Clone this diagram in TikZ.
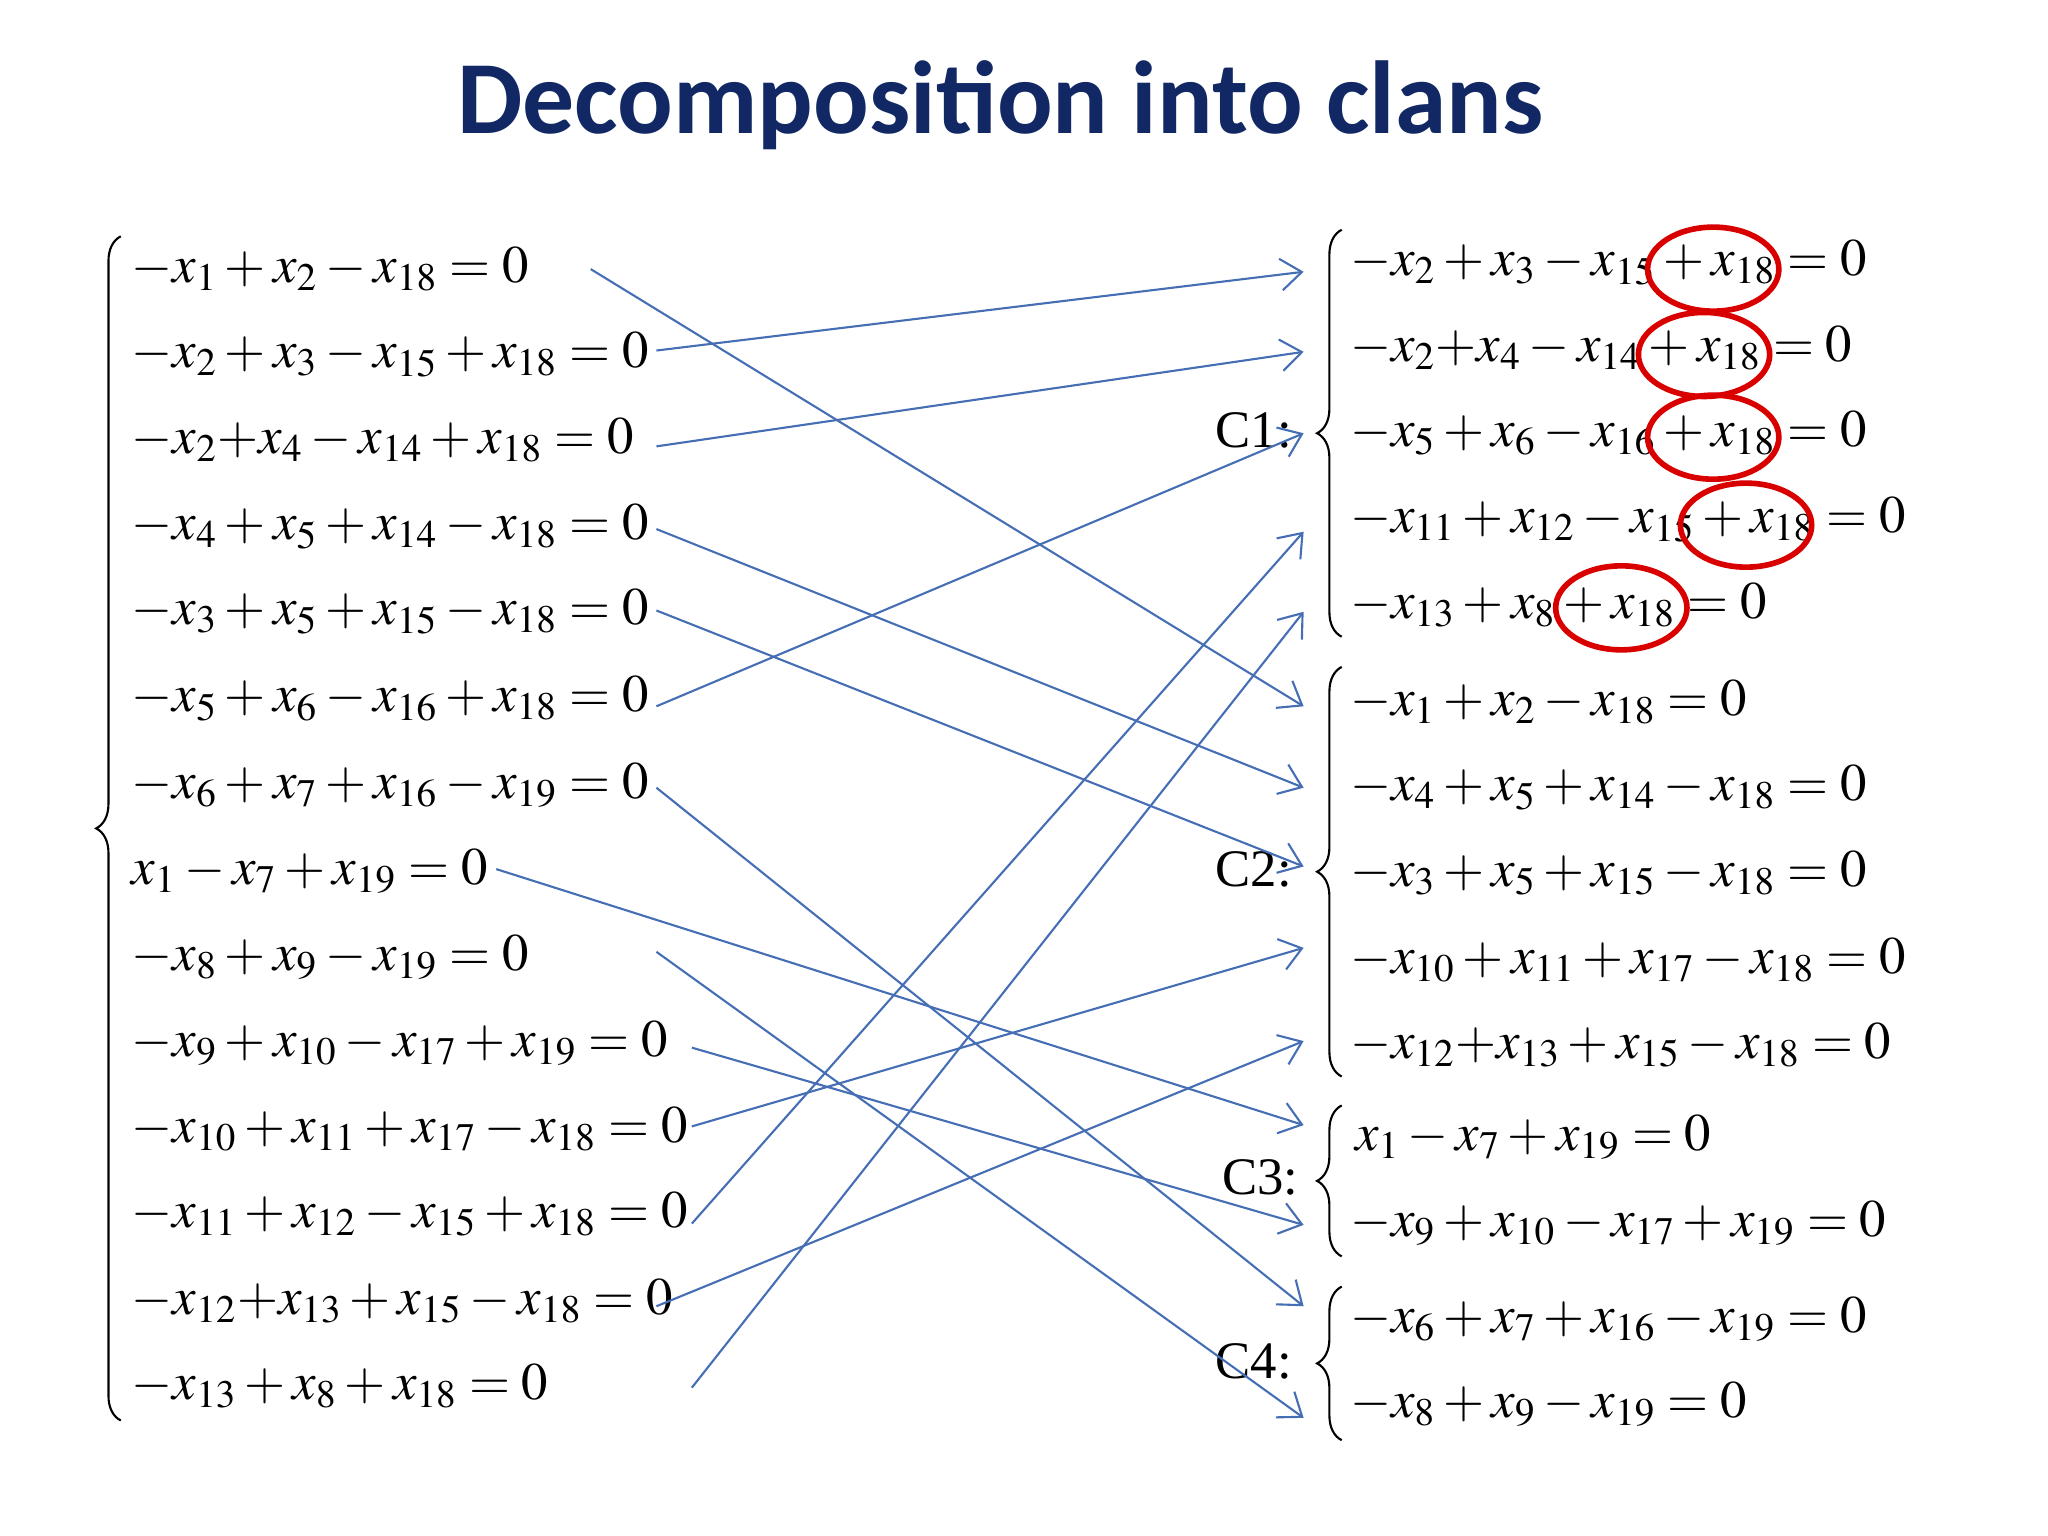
\documentclass[tikz,border=0pt]{standalone}
\usepackage{mathptmx}
\usepackage{fontspec}
\setmainfont{Liberation Serif}
\newfontfamily\titlefont{Carlito}
\usetikzlibrary{decorations.pathreplacing,arrows.meta}
\definecolor{titleblue}{RGB}{18,40,100}
\definecolor{arr}{RGB}{70,110,180}
\begin{document}
\begin{tikzpicture}[x=0.01313cm,y=-0.01313cm,
  eq/.style={anchor=west,inner sep=0pt,font=\fontsize{15}{17}\selectfont},
  lab/.style={inner sep=0pt,font=\fontsize{15}{17}\selectfont},
  conn/.style={draw=arr,line width=0.6pt,-{Straight Barb[length=6pt,width=9pt]}},
  br/.style={decorate,decoration={brace,amplitude=7pt},line width=0.6pt},
  ring/.style={draw=red!85!black,line width=1.6pt}]
\useasboundingbox (0,0) rectangle (1560,1170);
\node[font=\titlefont\bfseries\fontsize{29.5}{31}\selectfont,text=titleblue] (title) at (762,80) {Decomposition into clans};
% left system
\draw[br] (92,1082) -- (92,180);
\node[eq] (l1) at (100,205) {$-x_1+x_2-x_{18}=0$};
\node[eq] (l2) at (100,270) {$-x_2+x_3-x_{15}+x_{18}=0$};
\node[eq] (l3) at (100,335) {$-x_2{+}x_4-x_{14}+x_{18}=0$};
\node[eq] (l4) at (100,401) {$-x_4+x_5+x_{14}-x_{18}=0$};
\node[eq] (l5) at (100,466) {$-x_3+x_5+x_{15}-x_{18}=0$};
\node[eq] (l6) at (100,532) {$-x_5+x_6-x_{16}+x_{18}=0$};
\node[eq] (l7) at (100,598) {$-x_6+x_7+x_{16}-x_{19}=0$};
\node[eq] (l8) at (100,664) {$x_1-x_7+x_{19}=0$};
\node[eq] (l9) at (100,729) {$-x_8+x_9-x_{19}=0$};
\node[eq] (l10) at (100,795) {$-x_9+x_{10}-x_{17}+x_{19}=0$};
\node[eq] (l11) at (100,860) {$-x_{10}+x_{11}+x_{17}-x_{18}=0$};
\node[eq] (l12) at (100,925) {$-x_{11}+x_{12}-x_{15}+x_{18}=0$};
\node[eq] (l13) at (100,991) {$-x_{12}{+}x_{13}+x_{15}-x_{18}=0$};
\node[eq] (l14) at (100,1056) {$-x_{13}+x_8+x_{18}=0$};
% right systems
\node[lab] (c1) at (955,328) {C1:};
\node[lab] (c2) at (955,662) {C2:};
\node[lab] (c3) at (960,897) {C3:};
\node[lab] (c4) at (955,1037) {C4:};
\draw[br] (1022,485) -- (1022,175);
\draw[br] (1022,820) -- (1022,508);
\draw[br] (1022,957) -- (1022,842);
\draw[br] (1022,1097) -- (1022,980);
\node[eq] (r1) at (1028,200) {$-x_2+x_3-x_{15}+x_{18}=0$};
\node[eq] (r2) at (1028,265) {$-x_2{+}x_4-x_{14}+x_{18}=0$};
\node[eq] (r3) at (1028,330) {$-x_5+x_6-x_{16}+x_{18}=0$};
\node[eq] (r4) at (1028,396) {$-x_{11}+x_{12}-x_{15}+x_{18}=0$};
\node[eq] (r5) at (1028,461) {$-x_{13}+x_8+x_{18}=0$};
\node[eq] (r6) at (1028,535) {$-x_1+x_2-x_{18}=0$};
\node[eq] (r7) at (1028,600) {$-x_4+x_5+x_{14}-x_{18}=0$};
\node[eq] (r8) at (1028,665) {$-x_3+x_5+x_{15}-x_{18}=0$};
\node[eq] (r9) at (1028,731) {$-x_{10}+x_{11}+x_{17}-x_{18}=0$};
\node[eq] (r10) at (1028,796) {$-x_{12}{+}x_{13}+x_{15}-x_{18}=0$};
\node[eq] (r11) at (1032,866) {$x_1-x_7+x_{19}=0$};
\node[eq] (r12) at (1028,932) {$-x_9+x_{10}-x_{17}+x_{19}=0$};
\node[eq] (r13) at (1028,1005) {$-x_6+x_7+x_{16}-x_{19}=0$};
\node[eq] (r14) at (1028,1070) {$-x_8+x_9-x_{19}=0$};
% red rings
\draw[ring] (1305,205) ellipse (50 and 32);
\draw[ring] (1298,270) ellipse (50 and 32);
\draw[ring] (1305,333) ellipse (50 and 32);
\draw[ring] (1330,400) ellipse (50 and 32);
\draw[ring] (1235,463) ellipse (50 and 32);
% start/end points
\foreach \n/\x/\y in {s1/450/205,s2/500/267,s3/500/340,s4/500/403,s5/500/465,s6/500/538,s7/500/600,s8/378/662,s9/500/725,s10/527/798,s11/527/858,s12/527/932,s13/500/995,s14/527/1057,
 e1/993/207,e2/993/268,e3/993/330,e4/993/405,e5/993/466,e6/993/538,e7/993/600,e8/993/660,e9/993/722,e10/993/793,e11/993/857,e12/993/933,e13/993/995,e14/993/1080}
  \coordinate (\n) at (\x,\y);
\draw[conn] (s1) -- (e6);
\draw[conn] (s2) -- (e1);
\draw[conn] (s3) -- (e2);
\draw[conn] (s4) -- (e7);
\draw[conn] (s5) -- (e8);
\draw[conn] (s6) -- (e3);
\draw[conn] (s7) -- (e13);
\draw[conn] (s8) -- (e11);
\draw[conn] (s9) -- (e14);
\draw[conn] (s10) -- (e12);
\draw[conn] (s11) -- (e9);
\draw[conn] (s12) -- (e4);
\draw[conn] (s13) -- (e10);
\draw[conn] (s14) -- (e5);
\end{tikzpicture}
\end{document}
